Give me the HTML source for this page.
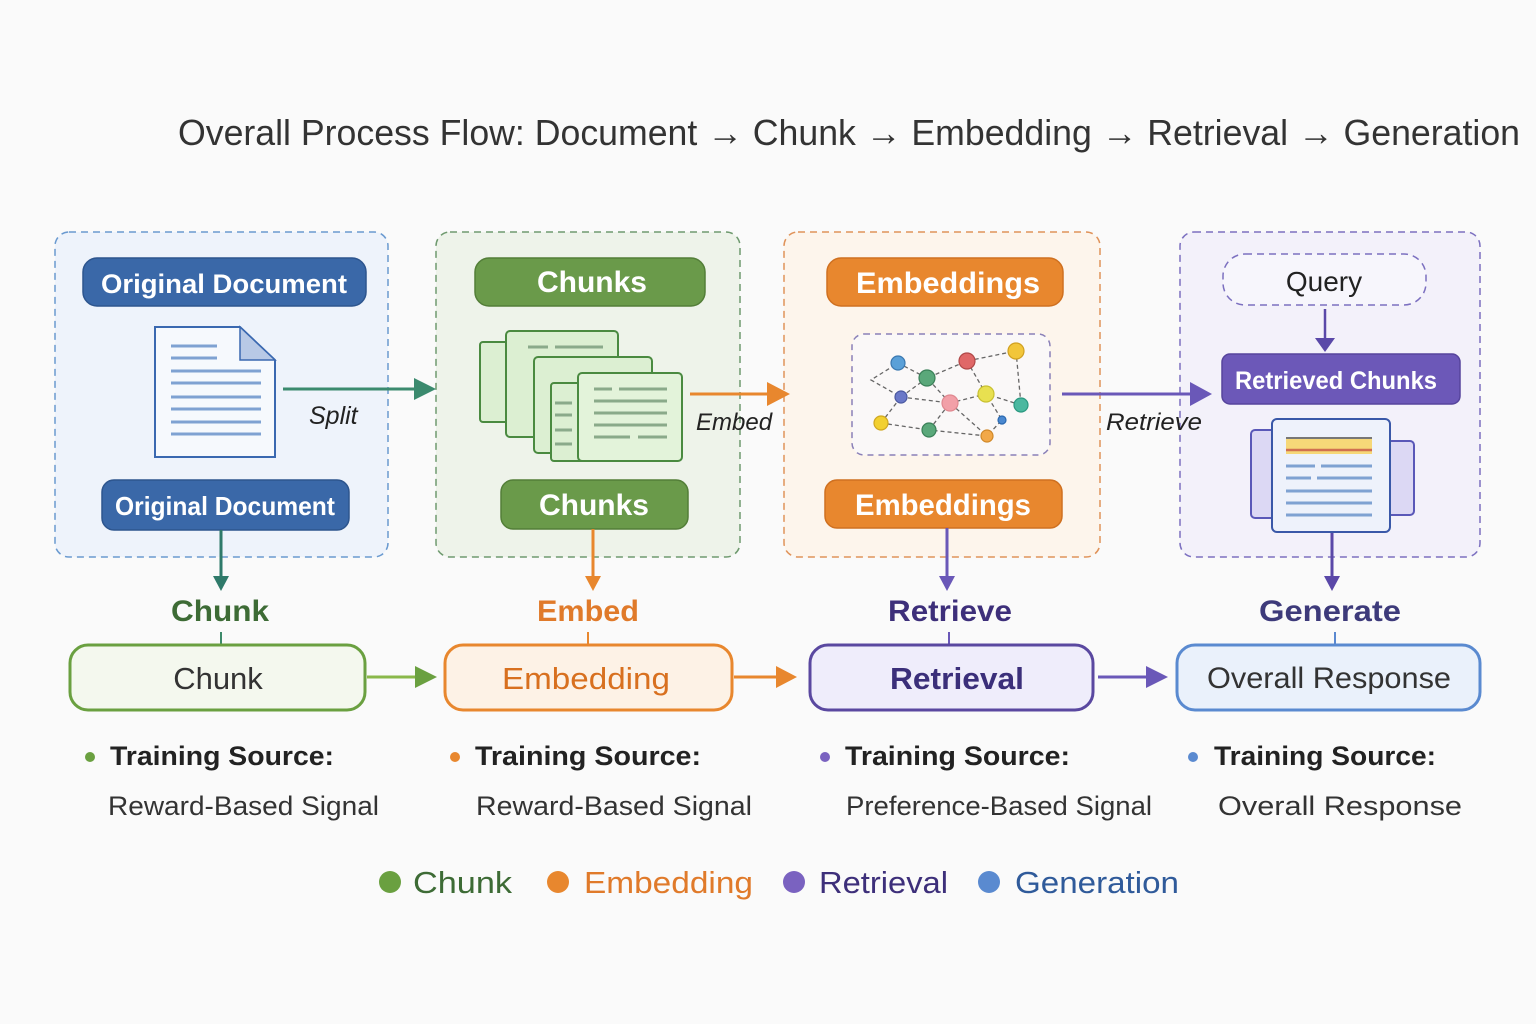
<!DOCTYPE html>
<html><head><meta charset="utf-8"><style>html,body{margin:0;padding:0;background:#fafafa}svg{display:block}text{font-family:"Liberation Sans",sans-serif}</style></head><body>
<svg width="1536" height="1024" viewBox="0 0 1536 1024" xmlns="http://www.w3.org/2000/svg">
<rect width="1536" height="1024" fill="#fafafa"/>
<text x="178" y="145" font-size="36" fill="#333" textLength="1342" lengthAdjust="spacingAndGlyphs">Overall Process Flow: Document → Chunk → Embedding → Retrieval → Generation</text>

<!-- panels -->
<rect x="55" y="232" width="333" height="325" rx="14" fill="#eef3fb" stroke="#6a9ad0" stroke-width="1.5" stroke-dasharray="7 5"/>
<rect x="436" y="232" width="304" height="325" rx="14" fill="#eef3ea" stroke="#6f9a6f" stroke-width="1.5" stroke-dasharray="7 5"/>
<rect x="784" y="232" width="316" height="325" rx="14" fill="#fdf5ec" stroke="#e0935a" stroke-width="1.5" stroke-dasharray="7 5"/>
<rect x="1180" y="232" width="300" height="325" rx="14" fill="#f3f1fa" stroke="#7c70c0" stroke-width="1.5" stroke-dasharray="7 5"/>

<!-- panel 1 -->
<rect x="83" y="258" width="283" height="48" rx="14" fill="#3a68a8" stroke="#2d558e" stroke-width="1.5"/>
<text x="224" y="293" font-size="27" font-weight="bold" fill="#fff" text-anchor="middle" textLength="246" lengthAdjust="spacingAndGlyphs">Original Document</text>
<path d="M155,327 H240 L275,360 V457 H155z" fill="#f6f9fd" stroke="#3a68b0" stroke-width="2"/>
<path d="M240,327 V360 H275z" fill="#b8c9e6" stroke="#3a68b0" stroke-width="1.5"/>
<g stroke="#7fa2d2" stroke-width="3">
<line x1="171" y1="346" x2="217" y2="346"/><line x1="171" y1="358" x2="217" y2="358"/>
<line x1="171" y1="371" x2="261" y2="371"/><line x1="171" y1="383" x2="261" y2="383"/><line x1="171" y1="397" x2="261" y2="397"/><line x1="171" y1="409" x2="261" y2="409"/><line x1="171" y1="422" x2="261" y2="422"/><line x1="171" y1="434" x2="261" y2="434"/></g>
<rect x="102" y="480" width="247" height="50" rx="12" fill="#3a68a8" stroke="#2d558e" stroke-width="1.5"/>
<text x="225" y="515" font-size="26" font-weight="bold" fill="#fff" text-anchor="middle" textLength="220" lengthAdjust="spacingAndGlyphs">Original Document</text>
<line x1="283" y1="389" x2="418" y2="389" stroke="#3b8a6e" stroke-width="3"/>
<path d="M414,378 L436,389 L414,400z" fill="#3b8a6e"/>
<text x="309" y="424" font-size="25" font-style="italic" fill="#222">Split</text>

<!-- panel 2 -->
<rect x="475" y="258" width="230" height="48" rx="14" fill="#6a9a4a" stroke="#537e38" stroke-width="1.5"/>
<text x="592" y="292" font-size="30" font-weight="bold" fill="#fff" text-anchor="middle">Chunks</text>
<g stroke="#4a8a40" stroke-width="2" fill="#dcefd2">
<rect x="480" y="342" width="40" height="80" rx="3"/>
<rect x="506" y="331" width="112" height="106" rx="4"/>
<rect x="534" y="357" width="118" height="96" rx="4"/>
<rect x="551" y="383" width="40" height="78" rx="3"/>
<rect x="578" y="373" width="104" height="88" rx="4" fill="#e3f3da"/>
</g>
<g stroke="#8aaa8a" stroke-width="3">
<line x1="528" y1="347" x2="548" y2="347"/><line x1="555" y1="347" x2="603" y2="347"/>
<line x1="594" y1="389" x2="612" y2="389"/><line x1="619" y1="389" x2="667" y2="389"/>
<line x1="594" y1="401" x2="667" y2="401"/><line x1="594" y1="413" x2="667" y2="413"/><line x1="594" y1="425" x2="667" y2="425"/>
<line x1="594" y1="437" x2="630" y2="437"/><line x1="638" y1="437" x2="667" y2="437"/>
<line x1="555" y1="403" x2="572" y2="403"/><line x1="555" y1="415" x2="572" y2="415"/><line x1="555" y1="430" x2="572" y2="430"/><line x1="555" y1="444" x2="572" y2="444"/>
</g>
<rect x="501" y="480" width="187" height="49" rx="12" fill="#6a9a4a" stroke="#537e38" stroke-width="1.5"/>
<text x="594" y="515" font-size="30" font-weight="bold" fill="#fff" text-anchor="middle">Chunks</text>
<line x1="690" y1="394" x2="772" y2="394" stroke="#e8872e" stroke-width="3"/>
<path d="M767,382 L790,394 L767,406z" fill="#e8872e"/>
<text x="696" y="430" font-size="24" font-style="italic" fill="#222">Embed</text>

<!-- panel 3 -->
<rect x="827" y="258" width="236" height="48" rx="14" fill="#e8872e" stroke="#cf7020" stroke-width="1.5"/>
<text x="948" y="293" font-size="30" font-weight="bold" fill="#fff" text-anchor="middle" textLength="184" lengthAdjust="spacingAndGlyphs">Embeddings</text>
<rect x="852" y="334" width="198" height="121" rx="12" fill="#faf8f8" stroke="#8a80b8" stroke-width="1.5" stroke-dasharray="6 5"/>
<g stroke="#666" stroke-width="1.3" stroke-dasharray="4 3" fill="none">
<path d="M898,363 L927,378 L967,361 L1016,351 L1021,405"/>
<path d="M927,378 L901,397 L871,380 L898,363"/>
<path d="M901,397 L950,403 L986,394 L1021,405"/>
<path d="M967,361 L986,394 L1002,420 L987,436"/>
<path d="M881,423 L901,397"/><path d="M881,423 L929,430 L950,403 L987,436 L929,430"/>
<path d="M950,403 L927,378"/>
</g>
<g stroke-width="1.2">
<circle cx="898" cy="363" r="7" fill="#5aa0d8" stroke="#3a78b0"/>
<circle cx="927" cy="378" r="8" fill="#5aa87a" stroke="#3a8058"/>
<circle cx="967" cy="361" r="8" fill="#e06868" stroke="#b04848"/>
<circle cx="1016" cy="351" r="8" fill="#f2c63a" stroke="#d0a020"/>
<circle cx="901" cy="397" r="6" fill="#6a78c8" stroke="#4a58a0"/>
<circle cx="950" cy="403" r="8" fill="#f2a0a8" stroke="#e08890"/>
<circle cx="986" cy="394" r="8" fill="#e8e050" stroke="#c8c030"/>
<circle cx="1021" cy="405" r="7" fill="#4ab8a0" stroke="#2a9880"/>
<circle cx="881" cy="423" r="7" fill="#f2d030" stroke="#d0a820"/>
<circle cx="929" cy="430" r="7" fill="#5aa87a" stroke="#3a8058"/>
<circle cx="1002" cy="420" r="4" fill="#4a88d0" stroke="#2a68b0"/>
<circle cx="987" cy="436" r="6" fill="#f2a848" stroke="#d08828"/>
</g>
<rect x="825" y="480" width="237" height="48" rx="12" fill="#e8872e" stroke="#cf7020" stroke-width="1.5"/>
<text x="943" y="515" font-size="30" font-weight="bold" fill="#fff" text-anchor="middle" textLength="176" lengthAdjust="spacingAndGlyphs">Embeddings</text>
<line x1="1062" y1="394" x2="1194" y2="394" stroke="#6a58b8" stroke-width="3"/>
<path d="M1190,382 L1212,394 L1190,406z" fill="#6a58b8"/>
<text x="1106" y="430" font-size="24" font-style="italic" fill="#222" textLength="96" lengthAdjust="spacingAndGlyphs">Retrieve</text>

<!-- panel 4 -->
<rect x="1223" y="254" width="203" height="51" rx="22" fill="#f7f6fc" stroke="#7c70c0" stroke-width="1.5" stroke-dasharray="7 5"/>
<text x="1324" y="291" font-size="28" fill="#222" text-anchor="middle">Query</text>
<line x1="1325" y1="309" x2="1325" y2="340" stroke="#5a48a8" stroke-width="2.5"/>
<path d="M1315,338 L1325,352 L1335,338z" fill="#5a48a8"/>
<rect x="1222" y="354" width="238" height="50" rx="8" fill="#6c58b8" stroke="#56449c" stroke-width="1.5"/>
<text x="1336" y="389" font-size="25" font-weight="bold" fill="#fff" text-anchor="middle" textLength="202" lengthAdjust="spacingAndGlyphs">Retrieved Chunks</text>
<rect x="1251" y="430" width="30" height="88" rx="4" fill="#dcd8f4" stroke="#5a58b8" stroke-width="2"/>
<rect x="1380" y="441" width="34" height="74" rx="4" fill="#dcd8f4" stroke="#5a58b8" stroke-width="2"/>
<rect x="1272" y="419" width="118" height="113" rx="5" fill="#eef2fb" stroke="#3a58a8" stroke-width="2"/>
<rect x="1286" y="438" width="86" height="16" fill="#f6d878"/>
<line x1="1286" y1="438" x2="1372" y2="438" stroke="#777" stroke-width="2"/>
<line x1="1286" y1="450" x2="1372" y2="450" stroke="#d07050" stroke-width="2.5"/>
<g stroke="#7fa2d2" stroke-width="3">
<line x1="1286" y1="466" x2="1315" y2="466"/><line x1="1321" y1="466" x2="1372" y2="466"/>
<line x1="1286" y1="478" x2="1311" y2="478"/><line x1="1317" y1="478" x2="1372" y2="478"/>
<line x1="1286" y1="491" x2="1372" y2="491"/><line x1="1286" y1="503" x2="1372" y2="503"/><line x1="1286" y1="515" x2="1372" y2="515"/>
</g>

<!-- vertical arrows -->
<g stroke-width="3">
<line x1="221" y1="530" x2="221" y2="578" stroke="#2f7a6a"/>
<line x1="593" y1="529" x2="593" y2="578" stroke="#e8872e"/>
<line x1="947" y1="528" x2="947" y2="578" stroke="#6a58b8"/>
<line x1="1332" y1="533" x2="1332" y2="578" stroke="#5a48a8"/>
</g>
<path d="M213,576 L221,591 L229,576z" fill="#2f7a6a"/>
<path d="M585,576 L593,591 L601,576z" fill="#e8872e"/>
<path d="M939,576 L947,591 L955,576z" fill="#6a58b8"/>
<path d="M1324,576 L1332,591 L1340,576z" fill="#5a48a8"/>

<g font-size="30" font-weight="bold" text-anchor="middle">
<text x="220" y="621" fill="#3d6b35" textLength="98" lengthAdjust="spacingAndGlyphs">Chunk</text>
<text x="588" y="621" fill="#e07a2a" textLength="102" lengthAdjust="spacingAndGlyphs">Embed</text>
<text x="950" y="621" fill="#3d2f7a" textLength="124" lengthAdjust="spacingAndGlyphs">Retrieve</text>
<text x="1330" y="621" fill="#3d3a7a" textLength="142" lengthAdjust="spacingAndGlyphs">Generate</text>
</g>
<g stroke-width="2">
<line x1="221" y1="632" x2="221" y2="645" stroke="#3d8a6a"/>
<line x1="588" y1="632" x2="588" y2="645" stroke="#e8872e"/>
<line x1="949" y1="632" x2="949" y2="645" stroke="#6a58b8"/>
<line x1="1335" y1="632" x2="1335" y2="645" stroke="#5a88d0"/>
</g>

<!-- bottom boxes -->
<rect x="70" y="645" width="295" height="65" rx="18" fill="#f4f8ee" stroke="#6aa040" stroke-width="3"/>
<text x="218" y="689" font-size="31" fill="#333" text-anchor="middle">Chunk</text>
<rect x="445" y="645" width="287" height="65" rx="18" fill="#fdf2e6" stroke="#e8872e" stroke-width="3"/>
<text x="586" y="689" font-size="31" fill="#d8701f" text-anchor="middle" textLength="168" lengthAdjust="spacingAndGlyphs">Embedding</text>
<rect x="810" y="645" width="283" height="65" rx="18" fill="#efedfb" stroke="#5a48a0" stroke-width="3"/>
<text x="957" y="689" font-size="31" fill="#3b2f7a" font-weight="bold" text-anchor="middle" textLength="134" lengthAdjust="spacingAndGlyphs">Retrieval</text>
<rect x="1177" y="645" width="303" height="65" rx="18" fill="#eaf1fb" stroke="#5a8ad0" stroke-width="3"/>
<text x="1329" y="688" font-size="30" fill="#333" text-anchor="middle" textLength="244" lengthAdjust="spacingAndGlyphs">Overall Response</text>

<line x1="367" y1="677" x2="420" y2="677" stroke="#8ab84a" stroke-width="3"/><path d="M415,666 L437,677 L415,688z" fill="#6aa040"/>
<line x1="734" y1="677" x2="780" y2="677" stroke="#e8872e" stroke-width="3"/><path d="M776,666 L797,677 L776,688z" fill="#e8872e"/>
<line x1="1098" y1="677" x2="1150" y2="677" stroke="#6a58b8" stroke-width="3"/><path d="M1146,666 L1168,677 L1146,688z" fill="#6a58b8"/>

<!-- training source -->
<g font-size="27">
<circle cx="90" cy="757" r="5" fill="#6aa040"/><text x="110" y="765" font-weight="bold" fill="#222" textLength="224" lengthAdjust="spacingAndGlyphs">Training Source:</text>
<text x="108" y="815" fill="#333" textLength="271" lengthAdjust="spacingAndGlyphs">Reward-Based Signal</text>
<circle cx="455" cy="757" r="5" fill="#e8872e"/><text x="475" y="765" font-weight="bold" fill="#222" textLength="226" lengthAdjust="spacingAndGlyphs">Training Source:</text>
<text x="476" y="815" fill="#333" textLength="276" lengthAdjust="spacingAndGlyphs">Reward-Based Signal</text>
<circle cx="825" cy="757" r="5" fill="#7a62c0"/><text x="845" y="765" font-weight="bold" fill="#222" textLength="225" lengthAdjust="spacingAndGlyphs">Training Source:</text>
<text x="846" y="815" fill="#333" textLength="306" lengthAdjust="spacingAndGlyphs">Preference-Based Signal</text>
<circle cx="1193" cy="757" r="5" fill="#5a8ad0"/><text x="1214" y="765" font-weight="bold" fill="#222" textLength="222" lengthAdjust="spacingAndGlyphs">Training Source:</text>
<text x="1218" y="815" fill="#333" textLength="244" lengthAdjust="spacingAndGlyphs">Overall Response</text>
</g>

<!-- legend -->
<g font-size="31">
<circle cx="390" cy="882" r="11" fill="#6aa040"/><text x="413" y="893" fill="#3d6b35" textLength="99" lengthAdjust="spacingAndGlyphs">Chunk</text>
<circle cx="558" cy="882" r="11" fill="#e8872e"/><text x="584" y="893" fill="#e07a2a" textLength="169" lengthAdjust="spacingAndGlyphs">Embedding</text>
<circle cx="794" cy="882" r="11" fill="#7a62c0"/><text x="819" y="893" fill="#3d2f7a" textLength="129" lengthAdjust="spacingAndGlyphs">Retrieval</text>
<circle cx="989" cy="882" r="11" fill="#5a8ad0"/><text x="1015" y="893" fill="#2f5a9a" textLength="164" lengthAdjust="spacingAndGlyphs">Generation</text>
</g>
</svg>
</body></html>
